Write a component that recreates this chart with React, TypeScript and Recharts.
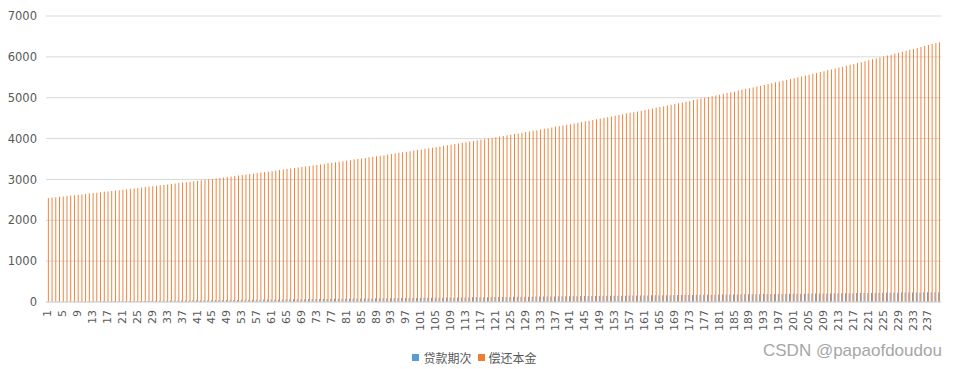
import React from "react";
import { BarChart, Bar, XAxis, YAxis, CartesianGrid, Legend } from "recharts";

const periods = [
  1, 2, 3, 4, 5, 6, 7, 8, 9, 10, 11, 12, 13, 14, 15, 16, 17, 18, 19, 20,
  21, 22, 23, 24, 25, 26, 27, 28, 29, 30, 31, 32, 33, 34, 35, 36, 37, 38, 39, 40,
  41, 42, 43, 44, 45, 46, 47, 48, 49, 50, 51, 52, 53, 54, 55, 56, 57, 58, 59, 60,
  61, 62, 63, 64, 65, 66, 67, 68, 69, 70, 71, 72, 73, 74, 75, 76, 77, 78, 79, 80,
  81, 82, 83, 84, 85, 86, 87, 88, 89, 90, 91, 92, 93, 94, 95, 96, 97, 98, 99, 100,
  101, 102, 103, 104, 105, 106, 107, 108, 109, 110, 111, 112, 113, 114, 115, 116, 117, 118, 119, 120,
  121, 122, 123, 124, 125, 126, 127, 128, 129, 130, 131, 132, 133, 134, 135, 136, 137, 138, 139, 140,
  141, 142, 143, 144, 145, 146, 147, 148, 149, 150, 151, 152, 153, 154, 155, 156, 157, 158, 159, 160,
  161, 162, 163, 164, 165, 166, 167, 168, 169, 170, 171, 172, 173, 174, 175, 176, 177, 178, 179, 180,
  181, 182, 183, 184, 185, 186, 187, 188, 189, 190, 191, 192, 193, 194, 195, 196, 197, 198, 199, 200,
  201, 202, 203, 204, 205, 206, 207, 208, 209, 210, 211, 212, 213, 214, 215, 216, 217, 218, 219, 220,
  221, 222, 223, 224, 225, 226, 227, 228, 229, 230, 231, 232, 233, 234, 235, 236, 237, 238, 239, 240,
];

// 贷款期次 values (the period number itself)
const loanPeriodValues = periods.slice();

// 偿还本金 values
const principalValues = [
  2545, 2555, 2565, 2574, 2584, 2594, 2604, 2614, 2624, 2634,
  2645, 2655, 2665, 2676, 2686, 2696, 2707, 2717, 2727, 2738,
  2748, 2759, 2769, 2780, 2791, 2802, 2812, 2823, 2834, 2845,
  2855, 2866, 2878, 2889, 2900, 2911, 2922, 2933, 2945, 2956,
  2967, 2978, 2990, 3002, 3013, 3025, 3036, 3048, 3060, 3071,
  3083, 3095, 3107, 3119, 3131, 3143, 3155, 3167, 3179, 3191,
  3203, 3216, 3228, 3241, 3253, 3266, 3278, 3291, 3303, 3316,
  3328, 3341, 3354, 3367, 3380, 3393, 3406, 3420, 3433, 3446,
  3459, 3472, 3486, 3499, 3513, 3526, 3540, 3553, 3567, 3580,
  3594, 3608, 3622, 3636, 3650, 3664, 3678, 3692, 3706, 3720,
  3734, 3749, 3763, 3778, 3793, 3807, 3822, 3836, 3851, 3866,
  3880, 3895, 3910, 3926, 3941, 3956, 3971, 3986, 4002, 4017,
  4032, 4048, 4063, 4079, 4095, 4111, 4126, 4142, 4158, 4174,
  4189, 4206, 4222, 4238, 4255, 4271, 4288, 4304, 4320, 4337,
  4353, 4370, 4387, 4404, 4421, 4438, 4455, 4472, 4489, 4506,
  4523, 4541, 4559, 4576, 4594, 4612, 4629, 4647, 4665, 4682,
  4700, 4718, 4737, 4755, 4773, 4792, 4810, 4829, 4847, 4865,
  4884, 4903, 4922, 4941, 4960, 4979, 4998, 5017, 5036, 5056,
  5075, 5094, 5114, 5134, 5154, 5174, 5194, 5213, 5233, 5253,
  5273, 5294, 5314, 5335, 5355, 5376, 5397, 5417, 5438, 5458,
  5479, 5500, 5522, 5543, 5565, 5586, 5607, 5629, 5650, 5672,
  5693, 5715, 5738, 5760, 5782, 5804, 5827, 5849, 5871, 5893,
  5916, 5939, 5962, 5985, 6008, 6031, 6054, 6078, 6101, 6124,
  6147, 6171, 6194, 6218, 6241, 6265, 6289, 6312, 6336, 6359,
];

const yTicks = [0, 1000, 2000, 3000, 4000, 5000, 6000, 7000];

const seriesNames = ["贷款期次", "偿还本金"];
const colors = ["#5B9BD5", "#ED7D31"];

const data = periods.map((p, i) => ({
  period: String(p),
  loan: loanPeriodValues[i],
  principal: principalValues[i],
}));

const FONT = "'DejaVu Sans', 'Noto Sans CJK SC', sans-serif";

const XTick = (props: any) => {
  const { x, y, payload } = props;
  return (
    <text
      x={x}
      y={y}
      transform={`rotate(-90, ${x}, ${y})`}
      textAnchor="end"
      dominantBaseline="central"
      fill="#595959"
      fontSize={11}
      fontFamily={FONT}
    >
      {payload.value}
    </text>
  );
};

const LegendContent = () => (
  <div
    style={{
      display: "flex",
      justifyContent: "center",
      alignItems: "center",
      fontFamily: "'Noto Sans CJK SC', sans-serif",
      fontSize: 12,
      color: "#595959",
      height: 20,
    }}
  >
    {seriesNames.map((n, i) => (
      <div key={n} style={{ display: "flex", alignItems: "center", marginRight: i === 0 ? 6 : 0 }}>
        <span style={{ display: "inline-block", width: 7, height: 7, background: colors[i], marginRight: 4 }} />
        <span>{n}</span>
      </div>
    ))}
  </div>
);

export default function App() {
  return (
    <div style={{ position: "relative", width: 940, height: 361 }}>
      <BarChart
        width={940}
        height={361}
        data={data}
        margin={{ top: 8, right: 7, left: 0, bottom: 2 }}
        barCategoryGap="25%"
        barGap={0}
      >
        <CartesianGrid vertical={false} stroke="#d9d9d9" />
        <XAxis
          dataKey="period"
          interval={3}
          tick={<XTick />}
          tickLine={false}
          tickSize={0}
          tickMargin={8}
          axisLine={{ stroke: "#d9d9d9" }}
          height={45}
        />
        <YAxis
          domain={[0, 7000]}
          ticks={yTicks}
          width={38}
          axisLine={false}
          tickLine={false}
          tickSize={0}
          tickMargin={9}
          tick={{ fill: "#595959", fontSize: 11.5, fontFamily: FONT }}
        />
        <Legend verticalAlign="bottom" content={<LegendContent />} />
        <Bar dataKey="loan" name={seriesNames[0]} fill={colors[0]} isAnimationActive={false} />
        <Bar dataKey="principal" name={seriesNames[1]} fill={colors[1]} isAnimationActive={false} />
      </BarChart>
      <div
        style={{
          position: "absolute",
          left: 755,
          top: 333,
          fontFamily: "'Liberation Sans', Arial, sans-serif",
          fontSize: 17,
          color: "#a6a6a6",
          whiteSpace: "nowrap",
        }}
      >
        CSDN @papaofdoudou
      </div>
    </div>
  );
}
